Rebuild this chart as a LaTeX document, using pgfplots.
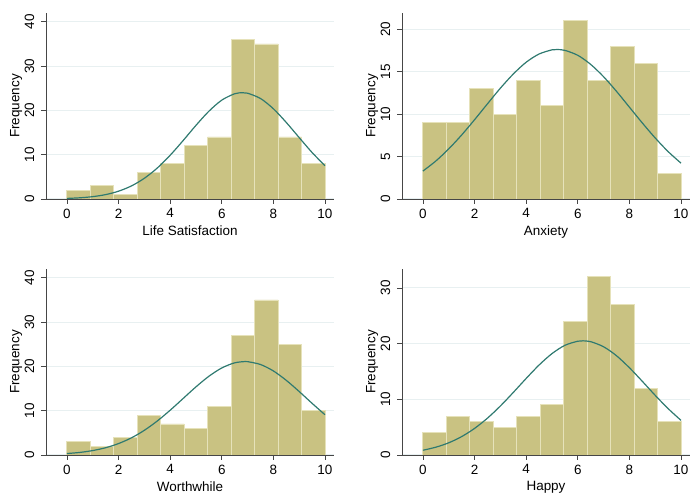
\documentclass[border=0pt]{standalone}
\usepackage{fontspec}
\setmainfont{Liberation Sans}
\usepackage{pgfplots}
\pgfplotsset{compat=1.18}
\usepgfplotslibrary{groupplots}

\definecolor{barfill}{RGB}{201,194,130}
\definecolor{baredge}{RGB}{230,226,186}
\definecolor{curvec}{RGB}{47,122,112}
\definecolor{gridc}{RGB}{232,240,241}
\definecolor{axisc}{RGB}{70,70,70}

\pgfplotsset{
  bars/.style={ybar interval, fill=barfill, draw=baredge, line width=0.7pt},
  normal/.style={curvec, line width=0.9pt, smooth, mark=none},
}

\begin{document}
\begin{tikzpicture}[font=\fontsize{10.1}{12}\selectfont]
\begin{groupplot}[
  group style={group size=2 by 2, horizontal sep=51pt, vertical sep=52.5pt},
  scale only axis,
  width=216pt, height=139.5pt,
  xmin=-0.81, xmax=10.35, ymin=0,
  axis lines*=left,
  axis line style={axisc, line width=0.6pt},
  tick align=outside,
  major tick length=3.75pt,
  tick style={axisc, line width=0.6pt},
  xtick={0,2,4,6,8,10},
  ymajorgrids,
  grid style={gridc, line width=0.8pt},
  ylabel={Frequency},
  /pgf/number format/assume math mode=true,
  yticklabel style={rotate=90, anchor=south, yshift=1.5pt},
  ylabel style={yshift=-5pt},
  xlabel style={yshift=1.5pt},
]
\nextgroupplot[ymax=42, ytick={0,10,20,30,40}, xlabel={Life Satisfaction}]
\addplot[bars] coordinates {
  (0,2) (0.9091,3) (1.8182,1) (2.7273,6) (3.6364,8) (4.5455,12)
  (5.4545,14) (6.3636,36) (7.2727,35) (8.1818,14) (9.0909,8) (10,0)
};
\addplot[normal] coordinates {
  (0,0.13) (0.5,0.27) (1,0.53) (1.5,0.99) (2,1.76) (2.5,2.95) (3,4.67)
  (3.5,6.98) (4,9.87) (4.5,13.17) (5,16.62) (5.5,19.81) (6,22.32)
  (6.5,23.76) (6.8,24.0) (7,23.89) (7.5,22.70) (8,20.38) (8.5,17.29)
  (9,13.87) (9.5,10.50) (10,7.52)
};

\nextgroupplot[ymax=21.9, ytick={0,5,10,15,20}, xlabel={Anxiety}]
\addplot[bars] coordinates {
  (0,9) (0.9091,9) (1.8182,13) (2.7273,10) (3.6364,14) (4.5455,11)
  (5.4545,21) (6.3636,14) (7.2727,18) (8.1818,16) (9.0909,3) (10,0)
};
\addplot[normal] coordinates {
  (0,3.29) (0.5,4.47) (1,5.90) (1.5,7.53) (2,9.33) (2.5,11.20) (3,13.04)
  (3.5,14.71) (4,16.10) (4.5,17.07) (5,17.56) (5.2,17.6) (5.5,17.50)
  (6,16.92) (6.5,15.85) (7,14.40) (7.5,12.68) (8,10.82) (8.5,8.96)
  (9,7.19) (9.5,5.59) (10,4.22)
};

\nextgroupplot[ymax=42, ytick={0,10,20,30,40}, xlabel={Worthwhile}]
\addplot[bars] coordinates {
  (0,3) (0.9091,2) (1.8182,4) (2.7273,9) (3.6364,7) (4.5455,6)
  (5.4545,11) (6.3636,27) (7.2727,35) (8.1818,25) (9.0909,10) (10,0)
};
\addplot[normal] coordinates {
  (0,0.33) (0.5,0.58) (1,1.00) (1.5,1.64) (2,2.58) (2.5,3.87) (3,5.57)
  (3.5,7.67) (4,10.10) (4.5,12.74) (5,15.38) (5.5,17.77) (6,19.65)
  (6.5,20.81) (6.9,21.1) (7,21.08) (7.5,20.44) (8,18.98) (8.5,16.86)
  (9,14.34) (9.5,11.67) (10,9.09)
};

\nextgroupplot[ymax=33.4, ytick={0,10,20,30}, xlabel={Happy}]
\addplot[bars] coordinates {
  (0,4) (0.9091,7) (1.8182,6) (2.7273,5) (3.6364,7) (4.5455,9)
  (5.4545,24) (6.3636,32) (7.2727,27) (8.1818,12) (9.0909,6) (10,0)
};
\addplot[normal] coordinates {
  (0,0.85) (0.5,1.40) (1,2.19) (1.5,3.30) (2,4.77) (2.5,6.61) (3,8.79)
  (3.5,11.22) (4,13.74) (4.5,16.15) (5,18.20) (5.5,19.69) (6,20.43)
  (6.2,20.5) (6.5,20.35) (7,19.44) (7.5,17.83) (8,15.68) (8.5,13.24)
  (9,10.72) (9.5,8.34) (10,6.22)
};
\end{groupplot}
\pgfresetboundingbox
\path (group c1r1.north west) ++(-34.5pt,9.75pt) rectangle ++(519pt,-371.25pt);
\end{tikzpicture}
\end{document}
